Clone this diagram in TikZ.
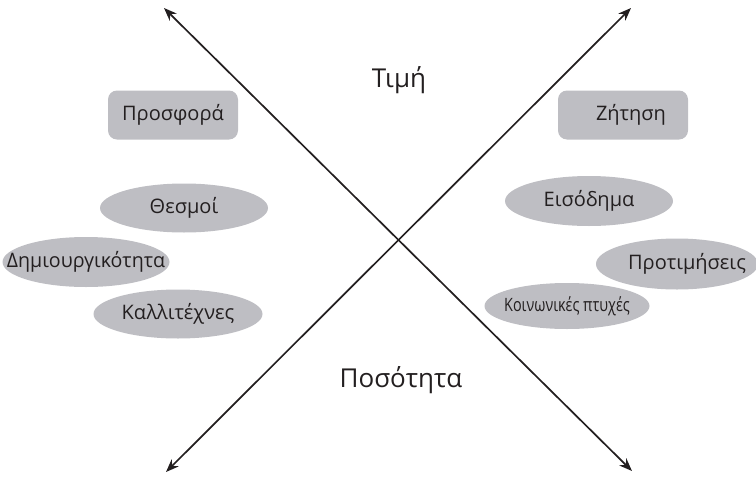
\documentclass[tikz,border=0pt]{standalone}
\usepackage{fontspec}
\setmainfont{Open Sans}
\usetikzlibrary{arrows.meta,shapes.geometric}
\definecolor{fillgray}{RGB}{190,190,195}
\definecolor{ink}{RGB}{35,31,32}
\newcommand{\zw}[1]{\makebox[0pt]{#1}}
\tikzset{
  axis/.style={line width=1.7pt, draw=ink, {Stealth[length=13pt,width=10pt]}-{Stealth[length=13pt,width=10pt]}},
  boxnode/.style={fill=fillgray, rounded corners=9pt, minimum width=130pt, minimum height=49pt, text=ink, font=\fontsize{20}{24}\selectfont, inner sep=0pt},
  ellnode/.style={ellipse, fill=fillgray, minimum width=168pt, minimum height=49pt, text=ink, font=\fontsize{20}{24}\selectfont, inner sep=0pt},
  lbl/.style={text=ink, font=\fontsize{26}{30}\selectfont, inner sep=0pt}
}
\begin{document}
\begin{tikzpicture}[x=1pt,y=-1pt]
\useasboundingbox (0,0) rectangle (756,477);
\coordinate (tl) at (164,8);
\coordinate (br) at (632,471);
\coordinate (tr) at (631,8);
\coordinate (bl) at (166,472);
\draw[axis] (tl) -- (br);
\draw[axis] (bl) -- (tr);
\node[boxnode] (supply) at (173,115) {\zw{Προσφορά}};
\node[boxnode] (demand) at (623,115) {\zw{\hspace{16pt}Ζήτηση}};
\node[lbl] (price) at (399,80) {Τιμή};
\node[lbl] (qty) at (401,380) {Ποσότητα};
\node[ellnode] (inst) at (184,208) {\zw{Θεσμοί}};
\node[ellnode, minimum width=167pt, minimum height=50pt] (creat) at (86,262) {\zw{\scalebox{0.98}[1]{Δημιουργικότητα}}};
\node[ellnode, minimum width=169pt] (art) at (178,314) {\zw{Καλλιτέχνες}};
\node[ellnode, minimum height=50pt] (inc) at (589,201) {\zw{Εισόδημα}};
\node[ellnode, minimum width=162pt, minimum height=51pt] (pref) at (677,264) {\zw{\hspace{20pt}Προτιμήσεις}};
\node[ellnode, minimum width=165pt, minimum height=46pt] (soc) at (567,306) {\zw{\scalebox{0.72}[0.92]{Κοινωνικές πτυχές}}};
\end{tikzpicture}
\end{document}
